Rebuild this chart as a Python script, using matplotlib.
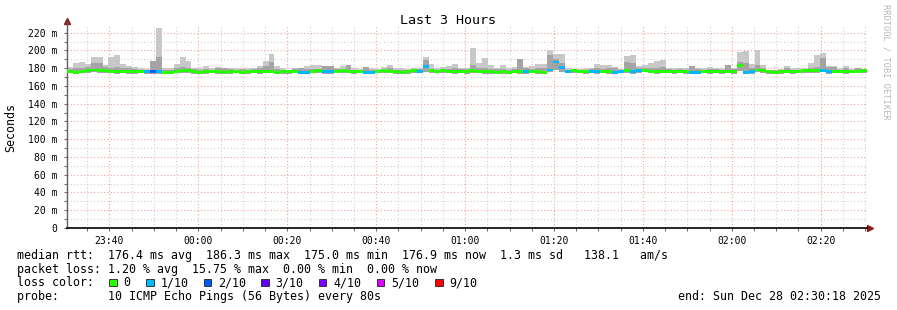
"""
SmokePing 风格延迟图 (Last 3 Hours)
"""
import numpy as np
import matplotlib
matplotlib.use("Agg")
import matplotlib.pyplot as plt

plt.rcParams['font.family'] = ['DejaVu Sans Mono']

# ---- 数据: 每 80 s 一个采样点, 共 135 个, 单位 ms ----
ping_max = [
    181.9, 185.6, 187.0, 184.4, 192.2, 192.2, 183.3, 192.2, 194.4, 184.4,
    182.6, 181.9, 180.0, 179.6, 188.1, 225.9, 180.0, 180.0, 184.4, 192.2,
    188.1, 180.7, 180.0, 182.6, 180.0, 181.5, 180.7, 180.7, 180.0, 179.6,
    180.0, 180.7, 182.6, 188.1, 195.5, 182.6, 180.0, 178.5, 180.0, 180.0,
    182.6, 183.7, 183.7, 183.0, 183.0, 180.7, 182.2, 184.0, 180.0, 178.9,
    181.0, 180.0, 179.3, 181.0, 183.7, 180.0, 180.0, 178.9, 180.7, 180.0,
    192.2, 184.4, 180.0, 181.9, 182.6, 184.4, 180.7, 180.7, 203.3, 185.6,
    191.9, 183.7, 180.7, 183.7, 180.0, 181.9, 190.4, 181.5, 183.0, 184.4,
    185.2, 200.4, 196.3, 195.6, 180.0, 179.6, 179.3, 180.0, 180.7, 185.2,
    183.7, 183.7, 181.5, 179.3, 193.7, 194.8, 182.6, 183.7, 185.6, 188.1,
    189.3, 180.7, 180.0, 180.7, 180.0, 182.6, 180.7, 180.0, 181.5, 180.7,
    180.0, 183.7, 180.7, 198.5, 199.6, 184.4, 200.4, 183.7, 177.8, 177.8,
    179.0, 183.0, 180.0, 180.0, 180.0, 186.3, 194.8, 196.7, 183.0, 183.0,
    180.0, 183.0, 179.0, 180.0, 179.5,
]
ping_mid = [
    179.5, 180.0, 180.5, 181.0, 185.6, 186.3, 181.0, 180.5, 181.5, 180.0,
    180.0, 179.5, 178.5, 178.5, 188.1, 192.2, 178.5, 178.5, 180.0, 181.0,
    180.5, 179.0, 178.5, 179.0, 178.5, 180.0, 180.0, 179.0, 178.5, 179.0,
    178.5, 179.0, 180.0, 183.0, 187.0, 179.5, 178.5, 178.0, 179.5, 180.0,
    179.0, 179.0, 179.5, 182.0, 182.0, 179.0, 179.5, 184.0, 178.5, 178.0,
    181.0, 178.5, 178.5, 179.0, 180.0, 178.5, 178.5, 178.0, 179.0, 179.0,
    188.9, 179.5, 178.5, 179.5, 179.5, 180.0, 179.0, 179.0, 183.7, 180.0,
    180.7, 179.5, 179.0, 179.5, 178.5, 179.5, 190.4, 180.0, 179.5, 180.0,
    180.0, 195.0, 190.0, 186.0, 178.5, 178.5, 178.5, 178.5, 179.5, 180.0,
    179.5, 180.0, 180.0, 178.5, 187.4, 186.0, 180.0, 180.0, 180.0, 180.5,
    181.0, 179.0, 178.5, 179.0, 178.5, 182.6, 179.5, 178.5, 179.5, 179.0,
    178.5, 183.7, 179.0, 187.4, 186.0, 180.0, 183.7, 180.0, 177.8, 177.8,
    178.5, 180.0, 178.5, 178.5, 178.5, 180.5, 181.0, 191.0, 181.0, 181.0,
    178.5, 180.0, 178.5, 180.0, 178.5,
]
ping_min = [
    174.5, 174.0, 174.5, 175.0, 175.5, 175.0, 174.5, 174.5, 174.0, 174.5,
    174.0, 174.0, 174.5, 174.0, 174.0, 174.0, 173.5, 173.5, 174.5, 175.0,
    175.0, 174.0, 173.5, 174.0, 174.5, 174.0, 173.5, 174.0, 174.5, 173.5,
    174.0, 174.5, 174.0, 174.5, 174.5, 173.5, 174.0, 174.0, 174.5, 173.5,
    173.5, 174.5, 175.0, 174.0, 174.0, 174.5, 175.0, 174.5, 174.0, 174.5,
    173.5, 173.5, 174.5, 175.0, 174.5, 174.0, 173.5, 174.0, 175.0, 174.5,
    175.5, 175.0, 174.5, 175.0, 174.5, 174.0, 174.5, 174.0, 175.0, 174.5,
    174.0, 174.0, 173.5, 174.0, 173.5, 174.5, 174.0, 174.0, 174.5, 174.0,
    173.5, 175.5, 178.0, 176.0, 174.5, 175.0, 174.5, 174.0, 174.5, 174.0,
    174.5, 174.0, 173.5, 174.5, 175.0, 174.0, 175.0, 175.5, 174.5, 174.0,
    174.5, 174.5, 174.0, 174.5, 174.0, 173.5, 173.5, 174.5, 174.0, 174.5,
    174.0, 174.5, 174.0, 177.0, 173.5, 174.0, 175.5, 175.0, 174.0, 173.5,
    174.0, 174.5, 174.0, 174.5, 175.0, 175.0, 175.0, 175.5, 174.0, 174.5,
    174.5, 174.0, 174.5, 174.5, 175.0,
]
median_rtt = [
    176.0, 175.5, 176.5, 177.5, 178.0, 177.5, 177.0, 176.5, 176.0, 176.5,
    176.0, 176.0, 176.5, 176.0, 176.0, 176.0, 175.5, 175.5, 176.5, 177.0,
    177.5, 176.0, 175.5, 176.0, 176.5, 176.0, 175.5, 176.0, 176.5, 175.5,
    176.0, 176.5, 176.0, 176.5, 176.5, 175.5, 176.0, 176.0, 176.5, 175.5,
    175.5, 176.5, 177.0, 176.0, 176.0, 176.5, 177.0, 176.5, 176.0, 176.5,
    175.5, 175.5, 176.5, 177.0, 176.5, 176.0, 175.5, 176.0, 177.0, 176.5,
    181.5, 177.5, 176.5, 177.0, 176.5, 176.0, 176.5, 176.0, 177.0, 176.5,
    176.0, 176.0, 175.5, 176.0, 175.5, 176.5, 176.0, 176.0, 176.5, 176.0,
    175.5, 178.0, 187.0, 181.0, 176.5, 177.0, 176.5, 176.0, 176.5, 176.0,
    176.5, 176.0, 175.5, 176.5, 177.0, 176.0, 177.0, 177.5, 176.5, 176.0,
    176.5, 176.5, 176.0, 176.5, 176.0, 175.5, 175.5, 176.5, 176.0, 176.5,
    176.0, 176.5, 176.0, 183.0, 175.5, 176.0, 178.0, 177.0, 176.0, 175.5,
    176.0, 176.5, 176.0, 176.5, 177.0, 177.0, 177.0, 177.5, 176.0, 176.5,
    176.5, 176.0, 176.5, 176.5, 177.0,
]
loss = [
    0, 0, 0, 0, 0, 0, 0, 0, 0, 0, 0, 0, 0, 1, 2, 1, 0, 0, 0, 0,
    0, 0, 0, 0, 0, 0, 0, 0, 0, 0, 0, 0, 0, 0, 0, 0, 0, 0, 0, 1,
    1, 0, 0, 1, 1, 0, 0, 0, 0, 0, 1, 1, 0, 0, 0, 0, 0, 0, 0, 1,
    1, 0, 0, 0, 0, 0, 0, 0, 0, 0, 0, 0, 0, 0, 0, 0, 0, 1, 0, 0,
    0, 1, 1, 1, 1, 0, 0, 0, 1, 1, 0, 0, 1, 1, 0, 1, 1, 0, 0, 0,
    0, 0, 0, 0, 0, 1, 1, 0, 0, 0, 0, 0, 0, 0, 1, 1, 0, 0, 0, 0,
    0, 0, 0, 0, 0, 0, 0, 1, 1, 0, 0, 0, 0, 0, 0,
]

loss_colors = {0: "#26ff00", 1: "#00b8ff", 2: "#0059ff", 3: "#5e00ff",
               4: "#7e00ff", 5: "#dd00ff", 9: "#ff0000"}
loss_labels = ["0", "1/10", "2/10", "3/10", "4/10", "5/10", "9/10"]

# 时间轴: 以 00:00 为 0 的分钟数
T_START = -29.56          # 23:30:26
T_END = 150.3             # 02:30:18
STEP = 80 / 60.0
tick_pos = [-20, 0, 20, 40, 60, 80, 100, 120, 140]
tick_labels = ["23:40", "00:00", "00:20", "00:40", "01:00",
               "01:20", "01:40", "02:00", "02:20"]

W, H = 897, 310
fig = plt.figure(figsize=(W / 100, H / 100), dpi=100)
fig.patch.set_facecolor("white")
ax = fig.add_axes([67 / W, 82 / H, 799.5 / W, 202 / H])

t = T_START + np.arange(len(median_rtt)) * STEP
lo = np.array(ping_min)

# 烟雾 (ping 分布)
ax.bar(t, np.array(ping_max) - lo, bottom=lo, width=STEP, align="edge",
       color="#c8c8c8", linewidth=0, zorder=2)
ax.bar(t, np.array(ping_mid) - lo, bottom=lo, width=STEP, align="edge",
       color="#a4a4a4", linewidth=0, zorder=3)

# 中位数线, 按丢包着色
HALF = 1.6
ax.bar(t, 2 * HALF, bottom=np.array(median_rtt) - HALF, width=STEP, align="edge",
       color=[loss_colors[l] for l in loss], linewidth=0, zorder=4)

ax.set_xlim(T_START, T_END)
ax.set_ylim(0, 227.6)

ax.set_xticks(tick_pos)
ax.set_xticklabels(tick_labels)
ax.set_xticks(np.arange(-25, 151, 5), minor=True)
ax.set_yticks(np.arange(0, 221, 20))
ax.set_yticklabels(["0"] + [f"{v} m" for v in range(20, 221, 20)])
ax.set_yticks(np.arange(0, 221, 10), minor=True)

ax.set_axisbelow(True)
ax.grid(which="minor", color="#d0d0d0", linestyle=(0, (1, 2)), linewidth=0.8)
ax.grid(which="major", color="#f2a0a0", linestyle=(0, (1, 2)), linewidth=0.8)

ax.tick_params(axis="both", which="both", length=2, width=0.8, color="#707070",
               labelsize=7, pad=4)
ax.tick_params(axis="y", pad=5)

for s in ("top", "right"):
    ax.spines[s].set_visible(False)
ax.spines["left"].set_color("#606060")
ax.spines["left"].set_linewidth(1)
ax.spines["bottom"].set_color("black")
ax.spines["bottom"].set_linewidth(1.2)
ax.spines["left"].set_bounds(0, 232)

# 坐标轴箭头
ax.plot([0], [1.025], marker="^", color="#8b1a1a", markersize=4,
        transform=ax.transAxes, clip_on=False)
ax.plot([1.004], [0], marker=">", color="#8b1a1a", markersize=4,
        transform=ax.transAxes, clip_on=False)

# 标题与标签 (像素坐标 -> figure 坐标)
def fx(x):
    return x / W

def fy(y):
    return 1 - y / H

fig.text(fx(448), fy(24), "Last 3 Hours", ha="center", va="baseline", fontsize=9.6)
fig.text(fx(11), fy(127), "Seconds", ha="center", va="center", rotation=90, fontsize=8.4)
fig.text(fx(886), fy(4), "RRDTOOL / TOBI OETIKER", ha="center", va="top",
         rotation=270, fontsize=6.2, color="#b8b8b8")

FS = 8.4
x0 = 16.5
fig.text(fx(x0), fy(259), "median rtt:  176.4 ms avg  186.3 ms max  175.0 ms min  "
         "176.9 ms now  1.3 ms sd   138.1   am/s", fontsize=FS, va="baseline")
fig.text(fx(x0), fy(272.7), "packet loss: 1.20 % avg  15.75 % max  0.00 % min  0.00 % now",
         fontsize=FS, va="baseline")
fig.text(fx(x0), fy(286.5), "loss color:", fontsize=FS, va="baseline")
box_x = [109, 146, 203.5, 261, 318.5, 376.5, 435]
for bx, key, lab in zip(box_x, [0, 1, 2, 3, 4, 5, 9], loss_labels):
    fig.patches.append(plt.Rectangle((fx(bx), fy(286)), 7.5 / W, 7.5 / H,
                                     transform=fig.transFigure, facecolor=loss_colors[key],
                                     edgecolor="#202020", linewidth=0.6))
    fig.text(fx(bx + 14.5), fy(286.5), lab, fontsize=FS, va="baseline")
fig.text(fx(x0), fy(300.2), "probe:       10 ICMP Echo Pings (56 Bytes) every 80s",
         fontsize=FS, va="baseline")
fig.text(fx(880.5), fy(300.2), "end: Sun Dec 28 02:30:18 2025", fontsize=FS,
         va="baseline", ha="right")

fig.savefig("out.png", dpi=100)
